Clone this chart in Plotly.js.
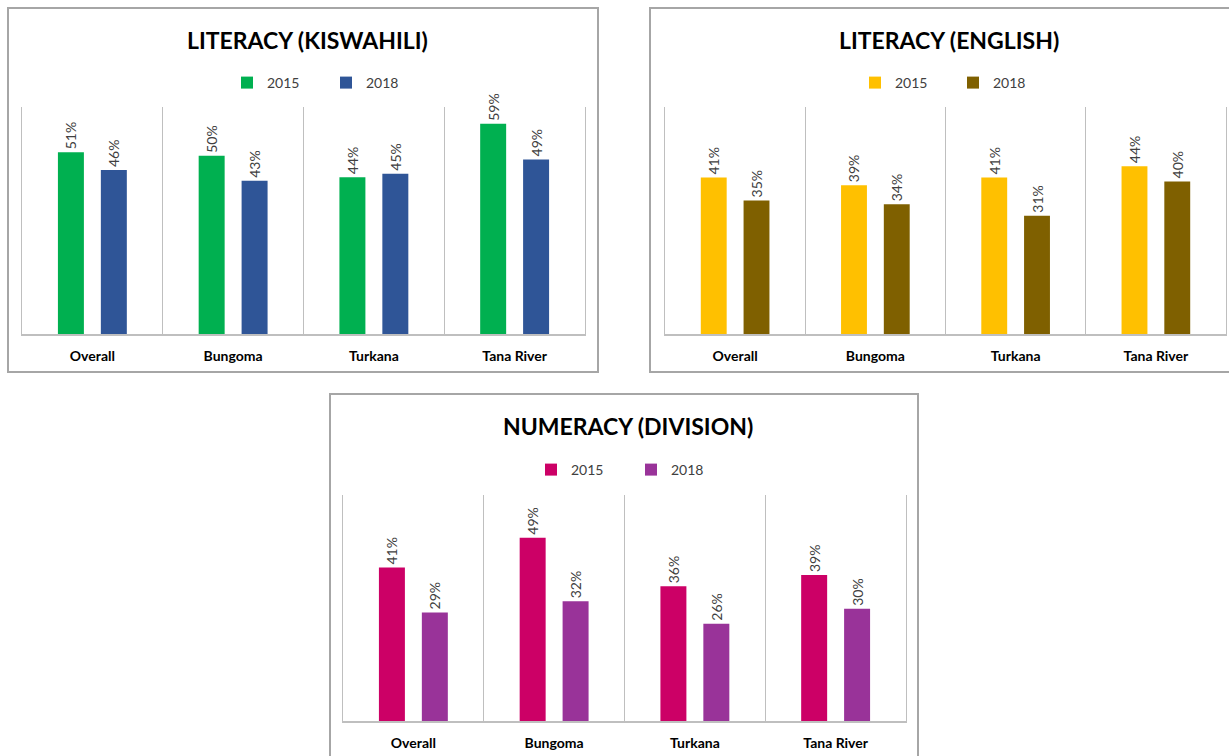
<!DOCTYPE html>
<html><head><meta charset="utf-8">
<script src="https://cdn.plot.ly/plotly-3.0.1.min.js"></script>
<style>html,body{margin:0;padding:0;background:#fff}</style>
</head><body><div id="chart" style="width:1229px;height:756px"></div>
<script>
// ---- data ----
const categories = ['Overall', 'Bungoma', 'Turkana', 'Tana River'];
const seriesNames = ['2015', '2018'];
const kiswahili2015 = [51, 50, 44, 59];
const kiswahili2018 = [46, 43, 45, 49];
const english2015 = [41, 39, 41, 44];
const english2018 = [35, 34, 31, 40];
const division2015 = [41, 49, 36, 39];
const division2018 = [29, 32, 26, 30];
const panelTitles = ['LITERACY (KISWAHILI)', 'LITERACY (ENGLISH)', 'NUMERACY (DIVISION)'];

// ---- layout helpers (pixel -> paper) ----
const W = 1229, H = 756;
const fx = x => x / W;
const fy = y => 1 - y / H;
const FONT = 'Lato, "Open Sans", sans-serif';

const panels = [
  {ax: '', vals: [kiswahili2015, kiswahili2018], colors: ['#00B050', '#2F5597'],
   plot: [22, 585, 107, 334], ymax: 63.7, title: [307, 40], legend: [227, 83], ew: 54,
   box: [8, 598, 8, 372]},
  {ax: '2', vals: [english2015, english2018], colors: ['#FFC000', '#7F6000'],
   plot: [665, 1226, 107, 334], ymax: 59.5, title: [949, 40], legend: [855, 83], ew: 53,
   box: [650, 1240, 8, 372]},
  {ax: '3', vals: [division2015, division2018], colors: ['#CC0066', '#993399'],
   plot: [343, 906, 495, 721], ymax: 60.4, title: [628, 426], legend: [531, 470], ew: 55,
   box: [330, 918, 394, 770]}
];

const data = [];
const layout = {
  width: W, height: H,
  margin: {l: 0, r: 0, t: 0, b: 0},
  paper_bgcolor: '#ffffff', plot_bgcolor: '#ffffff',
  barmode: 'group', bargap: 0.39, bargroupgap: 0.395,
  font: {family: FONT, color: '#404040'},
  annotations: [], shapes: [],
  showlegend: true
};

panels.forEach((p, i) => {
  const xa = 'x' + p.ax, ya = 'y' + p.ax;
  const legendId = 'legend' + p.ax;
  p.vals.forEach((v, k) => {
    data.push({
      type: 'bar', x: categories, y: v, name: seriesNames[k],
      xaxis: xa, yaxis: ya, legend: legendId,
      marker: {color: p.colors[k], line: {width: 0}},
      texttemplate: '%{y}%', textposition: 'outside', textangle: -90,
      textfont: {family: FONT, size: 14, color: '#404040'},
      constraintext: 'none', cliponaxis: false, hoverinfo: 'skip'
    });
  });
  layout['xaxis' + p.ax] = {
    domain: [fx(p.plot[0]), fx(p.plot[1])], anchor: ya,
    type: 'category', tickson: 'boundaries', ticks: '',
    showgrid: true, gridcolor: '#BFBFBF', gridwidth: 1,
    showline: true, linecolor: '#BFBFBF', linewidth: 2,
    tickfont: {family: FONT, size: 14, color: '#000000', weight: 'bold'},
    ticklabelstandoff: 8, fixedrange: true
  };
  layout['yaxis' + p.ax] = {
    domain: [fy(p.plot[3]), fy(p.plot[2])], anchor: xa,
    range: [0, p.ymax], showticklabels: false, showgrid: false, zeroline: false,
    showline: true, mirror: true, linecolor: '#BFBFBF', linewidth: 1, ticks: '',
    fixedrange: true
  };
  layout[legendId] = {
    orientation: 'h', x: fx(p.legend[0]), y: fy(p.legend[1]),
    xanchor: 'left', yanchor: 'middle',
    font: {family: FONT, size: 14, color: '#404040'},
    entrywidth: p.ew, entrywidthmode: 'pixels', itemwidth: 30,
    bgcolor: 'rgba(0,0,0,0)', traceorder: 'normal'
  };
  layout.annotations.push({
    text: panelTitles[i], xref: 'paper', yref: 'paper',
    x: fx(p.title[0]), y: fy(p.title[1]), xanchor: 'center', yanchor: 'middle',
    showarrow: false, font: {family: FONT, size: 23, color: '#000000', weight: 'bold'}
  });
  layout.shapes.push({
    type: 'rect', xref: 'paper', yref: 'paper',
    x0: fx(p.box[0]), x1: fx(p.box[1]), y0: fy(p.box[3]), y1: fy(p.box[2]),
    line: {color: '#A6A6A6', width: 2}, fillcolor: 'rgba(0,0,0,0)', layer: 'below'
  });
});

Plotly.newPlot('chart', data, layout, {staticPlot: true, displayModeBar: false});
</script>
</body></html>
